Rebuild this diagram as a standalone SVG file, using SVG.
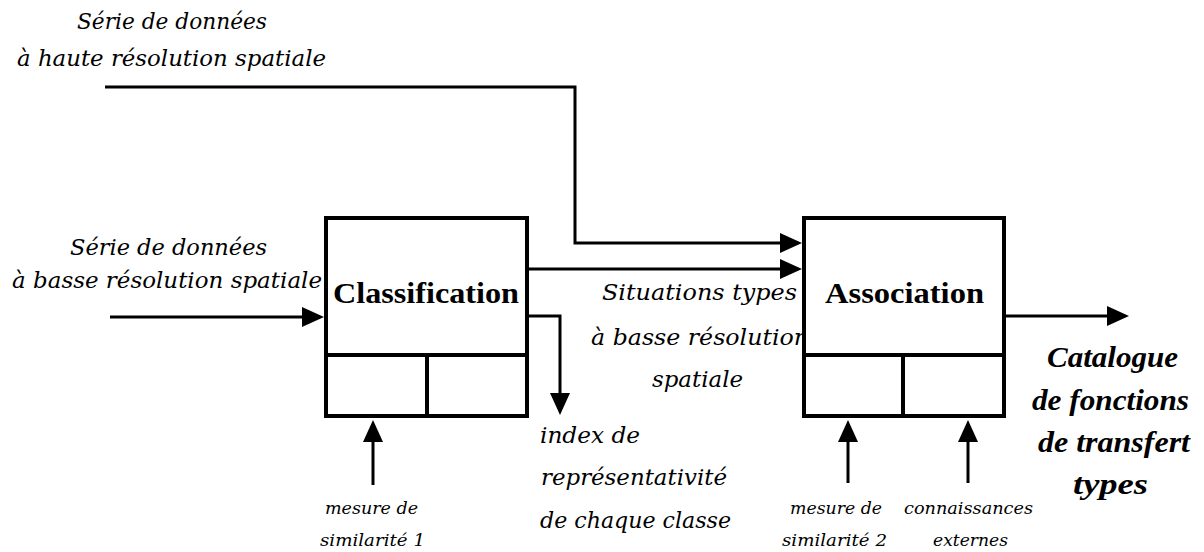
<svg xmlns="http://www.w3.org/2000/svg" width="1204" height="552" viewBox="0 0 1204 552">
<style>
.bg{fill:#ffffff}
.box{fill:#ffffff;stroke:#000;stroke-width:4}
.div{stroke:#000;stroke-width:4;fill:none}
.con{stroke:#000;stroke-width:3;fill:none}
.lbl{font-family:"DejaVu Serif","Liberation Serif",serif;font-style:italic;font-size:23px;fill:#000}
.sm{font-family:"DejaVu Serif","Liberation Serif",serif;font-style:italic;font-size:17px;fill:#000}
.title{font-family:"Liberation Serif","Times New Roman",serif;font-weight:bold;font-size:29px;fill:#000}
.out{font-family:"Liberation Serif","Times New Roman",serif;font-weight:bold;font-style:italic;font-size:30px;fill:#000}
</style>
<defs>
<marker id="ah" viewBox="0 0 22 20" refX="18" refY="10" markerWidth="22" markerHeight="20" markerUnits="userSpaceOnUse" orient="auto">
<path d="M0,0 L22,10 L0,20 z" fill="#000"/>
</marker>
</defs>
<rect class="bg" x="0" y="0" width="1204" height="552"/>

<g id="labels">
<text class="lbl" x="77" y="29" textLength="190" lengthAdjust="spacingAndGlyphs">Série de données</text>
<text class="lbl" x="17" y="66" textLength="309" lengthAdjust="spacingAndGlyphs">à haute résolution spatiale</text>
<text class="lbl" x="70" y="255" textLength="197" lengthAdjust="spacingAndGlyphs">Série de données</text>
<text class="lbl" x="12" y="288" textLength="310" lengthAdjust="spacingAndGlyphs">à basse résolution spatiale</text>
<text class="lbl" x="602" y="300" textLength="195" lengthAdjust="spacingAndGlyphs">Situations types</text>
<text class="lbl" x="591" y="345" textLength="218" lengthAdjust="spacingAndGlyphs">à basse résolution</text>
<text class="lbl" x="652" y="387" textLength="91" lengthAdjust="spacingAndGlyphs">spatiale</text>
<text class="lbl" x="540" y="443" textLength="100" lengthAdjust="spacingAndGlyphs">index de</text>
<text class="lbl" x="541" y="485" textLength="186" lengthAdjust="spacingAndGlyphs">représentativité</text>
<text class="lbl" x="540" y="528" textLength="191" lengthAdjust="spacingAndGlyphs">de chaque classe</text>
<text class="out" x="1047" y="367" textLength="131" lengthAdjust="spacingAndGlyphs">Catalogue</text>
<text class="out" x="1032" y="410" textLength="157" lengthAdjust="spacingAndGlyphs">de fonctions</text>
<text class="out" x="1038" y="452" textLength="152" lengthAdjust="spacingAndGlyphs">de transfert</text>
<text class="out" x="1073" y="494" textLength="75" lengthAdjust="spacingAndGlyphs">types</text>
<text class="sm" x="325" y="514" textLength="93" lengthAdjust="spacingAndGlyphs">mesure de</text>
<text class="sm" x="320" y="546" textLength="105" lengthAdjust="spacingAndGlyphs">similarité 1</text>
<text class="sm" x="790" y="514" textLength="92" lengthAdjust="spacingAndGlyphs">mesure de</text>
<text class="sm" x="782" y="546" textLength="105" lengthAdjust="spacingAndGlyphs">similarité 2</text>
<text class="sm" x="904" y="514" textLength="129" lengthAdjust="spacingAndGlyphs">connaissances</text>
<text class="sm" x="933" y="546" textLength="75" lengthAdjust="spacingAndGlyphs">externes</text>
</g>

<g id="connectors">
<polyline class="con" points="105,87 575,87 575,243 798,243" marker-end="url(#ah)"/>
<line class="con" x1="529" y1="269" x2="798" y2="269" marker-end="url(#ah)"/>
<line class="con" x1="110" y1="317" x2="320" y2="317" marker-end="url(#ah)"/>
<polyline class="con" points="527,316 560,316 560,411" marker-end="url(#ah)"/>
<line class="con" x1="1006" y1="316" x2="1125" y2="316" marker-end="url(#ah)"/>
<line class="con" x1="373" y1="485" x2="373" y2="424" marker-end="url(#ah)"/>
<line class="con" x1="848" y1="483" x2="848" y2="424" marker-end="url(#ah)"/>
<line class="con" x1="968" y1="483" x2="968" y2="424" marker-end="url(#ah)"/>
</g>

<g id="classification">
<rect class="box" x="326" y="218" width="201" height="198"/>
<line class="div" x1="326" y1="355" x2="527" y2="355"/>
<line class="div" x1="427" y1="355" x2="427" y2="416"/>
<text class="title" x="333" y="303" textLength="186" lengthAdjust="spacingAndGlyphs">Classification</text>
</g>

<g id="association">
<rect class="box" x="804" y="218" width="200" height="198"/>
<line class="div" x1="804" y1="355" x2="1004" y2="355"/>
<line class="div" x1="903" y1="355" x2="903" y2="416"/>
<text class="title" x="825" y="303" textLength="159" lengthAdjust="spacingAndGlyphs">Association</text>
</g>
</svg>
